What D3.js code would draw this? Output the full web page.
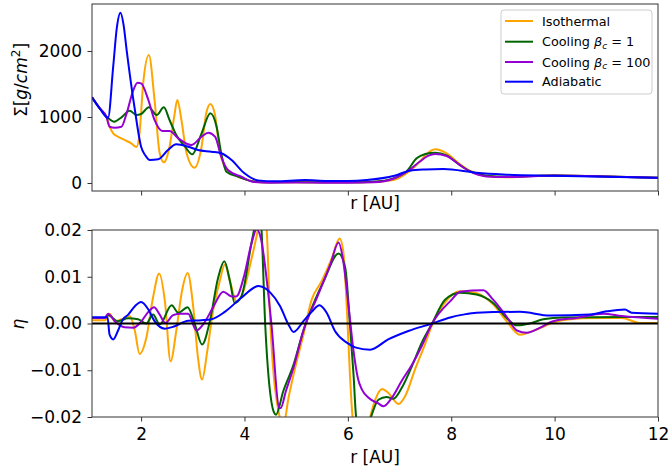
<!DOCTYPE html>
<html><head><meta charset="utf-8">
<script src="https://cdn.jsdelivr.net/npm/d3@7"></script>
<style>body{margin:0;background:#fff} text{font-family:"DejaVu Sans",sans-serif}</style>
</head><body><svg id="c" width="670" height="470"></svg>
<script>
// ---------------- data ----------------
const seriesNames = ["Isothermal", "Cooling1", "Cooling100", "Adiabatic"];
const rTicks = [2, 4, 6, 8, 10, 12];
const sigmaTicks = [0, 1000, 2000];
const etaTicks = [-0.02, -0.01, 0.00, 0.01, 0.02];
const etaTickLabels = ["\u22120.02", "\u22120.01", "0.00", "0.01", "0.02"];

// Surface density Σ [g/cm^2] vs r [AU]
const sigmaIsothermal = [[1.05,1298],[1.2,1130],[1.33,1000],[1.39,853],[1.46,753],[1.55,702],[1.68,652],[1.81,601],[1.91,545],[1.97,753],[2.04,1510],[2.15,1940],[2.26,1258],[2.36,450],[2.44,313],[2.55,550],[2.64,1005],[2.70,1258],[2.78,955],[2.88,450],[3.03,232],[3.17,550],[3.26,1056],[3.34,1197],[3.43,1030],[3.52,500],[3.62,247],[3.81,121],[4.07,45],[4.3,12],[5.0,12],[5.5,10],[6.0,10],[6.5,15],[6.88,45],[7.14,150],[7.40,330],[7.50,420],[7.69,510],[7.91,450],[8.17,285],[8.36,187],[8.68,106],[9.07,86],[9.52,106],[10,115],[11,100],[12,80]];
const sigmaCooling1 = [[1.05,1298],[1.2,1130],[1.36,985],[1.48,929],[1.62,995],[1.78,1096],[1.91,1030],[2.0,1045],[2.15,1147],[2.30,1030],[2.44,1147],[2.55,955],[2.68,727],[2.85,550],[2.99,435],[3.17,753],[3.34,1056],[3.46,853],[3.55,450],[3.65,171],[3.88,95],[4.13,30],[4.4,10],[5.0,15],[5.5,10],[6.0,10],[6.5,20],[6.88,70],[7.14,180],[7.33,374],[7.50,440],[7.69,460],[7.91,420],[8.17,270],[8.36,180],[8.68,110],[9.07,95],[9.52,105],[10,112],[11,100],[12,80]];
const sigmaCooling100 = [[1.05,1298],[1.2,1130],[1.33,1000],[1.39,853],[1.49,838],[1.62,853],[1.72,1056],[1.85,1409],[1.93,1520],[2.0,1510],[2.14,1258],[2.26,955],[2.41,788],[2.55,788],[2.72,677],[2.97,576],[3.17,702],[3.30,762],[3.43,702],[3.55,398],[3.68,197],[3.94,95],[4.19,15],[4.5,5],[5.0,8],[5.5,5],[6.0,5],[6.5,12],[6.88,65],[7.14,171],[7.40,330],[7.55,410],[7.69,440],[7.91,410],[8.17,270],[8.36,175],[8.68,100],[9.07,90],[9.52,100],[10,112],[11,100],[12,80]];
const sigmaAdiabatic = [[1.05,1298],[1.2,1130],[1.36,985],[1.46,1762],[1.53,2350],[1.60,2580],[1.66,2400],[1.72,2015],[1.88,1106],[2.0,550],[2.08,420],[2.17,348],[2.33,360],[2.52,500],[2.68,586],[2.91,550],[3.10,500],[3.36,474],[3.55,450],[3.75,348],[4.0,147],[4.26,40],[4.6,25],[5.17,45],[5.6,30],[6.0,30],[6.37,45],[6.9,110],[7.2,187],[7.5,205],[7.85,212],[8.49,156],[9.0,130],[9.97,111],[11,95],[12,80]];

// η vs r [AU]
const etaIsothermal = [[1.05,0.0007],[1.3,0.0007],[1.39,0.0021],[1.49,0.0005],[1.62,0.0009],[1.78,0.0016],[1.88,-0.0016],[1.97,-0.0065],[2.10,-0.0031],[2.23,0.0055],[2.35,0.0107],[2.46,0.0048],[2.57,-0.0081],[2.68,-0.0016],[2.79,0.0069],[2.90,0.0108],[3.01,0.0034],[3.10,-0.0073],[3.18,-0.0120],[3.28,-0.0059],[3.39,0.0026],[3.52,0.0090],[3.62,0.0126],[3.72,0.0090],[3.85,0.0046],[3.98,0.0069],[4.11,0.0126],[4.24,0.019],[4.36,0.026],[4.43,0.020],[4.50,0.0],[4.68,-0.020],[4.75,-0.022],[4.85,-0.016],[4.95,-0.0109],[5.14,-0.0024],[5.30,0.0051],[5.49,0.0090],[5.69,0.0140],[5.84,0.0182],[5.91,0.0155],[5.98,0.0034],[6.04,-0.0109],[6.09,-0.0198],[6.25,-0.028],[6.43,-0.020],[6.53,-0.0163],[6.66,-0.0140],[6.78,-0.0148],[6.98,-0.0172],[7.11,-0.0155],[7.30,-0.0098],[7.49,-0.0045],[7.64,0.0],[7.85,0.0041],[8.17,0.0069],[8.46,0.0066],[8.81,0.0041],[9.07,0.0005],[9.33,-0.0024],[9.65,-0.0013],[10.04,0.0004],[10.55,0.0011],[10.94,0.0012],[11.30,0.0012],[11.65,0.0001],[12,0.0001]];
const etaCooling1 = [[1.05,0.0012],[1.3,0.0012],[1.36,0.0018],[1.55,0.0005],[1.75,0.0011],[1.94,0.0009],[2.10,0.0],[2.23,0.0019],[2.36,-0.0002],[2.59,0.0039],[2.72,0.0023],[2.90,0.0035],[3.04,-0.0002],[3.18,-0.0045],[3.33,0.0005],[3.49,0.0098],[3.61,0.0133],[3.72,0.0090],[3.81,0.0044],[3.94,0.0058],[4.13,0.0169],[4.20,0.021],[4.27,0.026],[4.33,0.020],[4.40,0.0],[4.57,-0.019],[4.61,-0.0195],[4.75,-0.0145],[4.95,-0.0088],[5.14,-0.0015],[5.33,0.0041],[5.53,0.0090],[5.82,0.0150],[5.95,0.0119],[6.04,-0.0002],[6.11,-0.011],[6.16,-0.020],[6.3,-0.026],[6.46,-0.0196],[6.59,-0.0163],[6.75,-0.0157],[6.88,-0.0161],[7.04,-0.0138],[7.24,-0.0091],[7.43,-0.0041],[7.63,0.0],[7.88,0.0051],[8.17,0.0066],[8.49,0.0062],[8.81,0.0044],[9.07,0.0012],[9.27,-0.0004],[9.52,0.0],[9.78,0.0009],[10.17,0.0013],[12,0.0014]];
const etaCooling100 = [[1.05,0.0012],[1.3,0.0012],[1.36,0.0021],[1.49,0.0005],[1.68,-0.0008],[1.85,-0.0009],[2.0,0.0004],[2.14,0.0025],[2.25,0.0035],[2.36,0.0019],[2.47,0.0001],[2.62,0.0018],[2.77,0.0021],[2.91,0.0021],[3.07,-0.0015],[3.20,-0.0002],[3.39,0.0034],[3.59,0.0068],[3.75,0.0058],[3.84,0.0058],[4.0,0.0105],[4.13,0.0169],[4.24,0.0202],[4.31,0.0185],[4.52,0.0],[4.67,-0.018],[4.70,-0.0181],[4.80,-0.0145],[4.95,-0.0094],[5.14,-0.0015],[5.40,0.0055],[5.66,0.0126],[5.82,0.0173],[5.91,0.0134],[6.01,0.0041],[6.11,-0.0059],[6.20,-0.0120],[6.27,-0.0141],[6.40,-0.0159],[6.59,-0.0171],[6.69,-0.0177],[6.85,-0.0159],[7.04,-0.0123],[7.24,-0.0088],[7.43,-0.0048],[7.63,0.0],[8.01,0.0051],[8.17,0.0068],[8.62,0.0071],[8.81,0.0051],[9.07,0.0015],[9.27,-0.0015],[9.46,-0.0020],[9.72,-0.0009],[9.97,0.0005],[10.43,0.0012],[10.94,0.0021],[11.30,0.0016],[12,0.0010]];
const etaAdiabatic = [[1.05,0.00135],[1.35,0.00135],[1.39,-0.0024],[1.46,-0.0034],[1.55,-0.0016],[1.65,0.0009],[1.75,0.0019],[1.88,0.0037],[2.0,0.0046],[2.14,0.0030],[2.26,0.0005],[2.46,-0.0011],[2.65,-0.0006],[2.91,0.0006],[3.17,0.0007],[3.36,0.0009],[3.62,0.0025],[3.94,0.0055],[4.27,0.0080],[4.50,0.0066],[4.69,0.0037],[4.85,-0.0002],[4.95,-0.0018],[5.14,0.0005],[5.30,0.0025],[5.45,0.0039],[5.59,0.0023],[5.75,-0.0016],[5.98,-0.0041],[6.14,-0.0051],[6.43,-0.0056],[6.78,-0.0034],[7.17,-0.0016],[7.63,0.0],[7.98,0.0013],[8.23,0.0019],[8.49,0.0023],[9.33,0.0025],[9.91,0.0017],[10.68,0.0019],[11.01,0.0026],[11.36,0.0030],[11.49,0.0023],[12,0.0021]];

const colors = {Isothermal:"#FFA500", Cooling1:"#006400", Cooling100:"#9400D3", Adiabatic:"#0000FF"};
const sigmaData = {Isothermal:sigmaIsothermal, Cooling1:sigmaCooling1, Cooling100:sigmaCooling100, Adiabatic:sigmaAdiabatic};
const etaData = {Isothermal:etaIsothermal, Cooling1:etaCooling1, Cooling100:etaCooling100, Adiabatic:etaAdiabatic};

// ---------------- layout ----------------
const svg = d3.select("#c");
const L = 92, R = 658;
const top1 = 4, bot1 = 191, top2 = 230, bot2 = 417;
const FS = 17;

const x = d3.scaleLinear().domain([1.05, 12]).range([L, R]);
const ySig = d3.scaleLinear().domain([-121, 2712]).range([bot1, top1]);
const yEta = d3.scaleLinear().domain([-0.02, 0.02]).range([bot2, top2]);

const defs = svg.append("defs");
defs.append("clipPath").attr("id","clip1").append("rect").attr("x",L).attr("y",top1).attr("width",R-L).attr("height",bot1-top1);
defs.append("clipPath").attr("id","clip2").append("rect").attr("x",L).attr("y",top2).attr("width",R-L).attr("height",bot2-top2);

function drawLines(yScale, dataMap, clipId) {
  const line = d3.line().x(d => x(d[0])).y(d => yScale(d[1])).curve(d3.curveMonotoneX);
  const g = svg.append("g").attr("clip-path", `url(#${clipId})`);
  seriesNames.forEach(n => {
    g.append("path").attr("d", line(dataMap[n])).attr("fill","none")
      .attr("stroke", colors[n]).attr("stroke-width", 2).attr("stroke-linejoin","round");
  });
  return g;
}

drawLines(ySig, sigmaData, "clip1");
const g2 = drawLines(yEta, etaData, "clip2");
g2.append("line").attr("x1",L).attr("x2",R).attr("y1",yEta(0)).attr("y2",yEta(0))
  .attr("stroke","#000").attr("stroke-width",2);

function styleAxis(g){
  g.selectAll(".domain").remove();
  g.selectAll(".tick line").attr("stroke","#333").attr("stroke-width",1);
  g.selectAll(".tick text").attr("font-size",FS).attr("fill","#000").attr("font-family","DejaVu Sans");
}

// top panel axes
svg.append("g").attr("transform",`translate(0,${bot1})`)
  .call(d3.axisBottom(x).tickValues(rTicks).tickFormat("").tickSize(4.5).tickSizeOuter(0)).call(styleAxis);
svg.append("g").attr("transform",`translate(${L},0)`)
  .call(d3.axisLeft(ySig).tickValues(sigmaTicks).tickFormat(d3.format("d")).tickSize(4.5).tickPadding(5.5).tickSizeOuter(0)).call(styleAxis);
// bottom panel axes
svg.append("g").attr("transform",`translate(0,${bot2})`)
  .call(d3.axisBottom(x).tickValues(rTicks).tickFormat(d3.format("d")).tickSize(4.5).tickPadding(6.5).tickSizeOuter(0)).call(styleAxis);
svg.append("g").attr("transform",`translate(${L},0)`)
  .call(d3.axisLeft(yEta).tickValues(etaTicks).tickFormat((d,i)=>etaTickLabels[i]).tickSize(4.5).tickPadding(5.5).tickSizeOuter(0)).call(styleAxis);

// frames
[[top1,bot1],[top2,bot2]].forEach(([t,b]) => {
  svg.append("rect").attr("x",L).attr("y",t).attr("width",R-L).attr("height",b-t)
    .attr("fill","none").attr("stroke","#333").attr("stroke-width",1);
});

// axis labels
svg.append("text").attr("x",(L+R)/2).attr("y",209).attr("text-anchor","middle").attr("font-size",FS).text("r [AU]");
svg.append("text").attr("x",(L+R)/2).attr("y",463).attr("text-anchor","middle").attr("font-size",FS).text("r [AU]");

const sl = svg.append("text").attr("transform","translate(27,80) rotate(-90)").attr("text-anchor","middle").attr("font-size",FS);
sl.append("tspan").text("Σ[");
sl.append("tspan").attr("font-style","italic").text("g");
sl.append("tspan").text("/");
sl.append("tspan").attr("font-style","italic").text("cm");
sl.append("tspan").attr("font-size",12).attr("dy",-7).text("2");
sl.append("tspan").attr("dy",7).text("]");

svg.append("text").attr("transform","translate(24,324) rotate(-90)").attr("text-anchor","middle")
  .attr("font-size",FS).attr("font-style","italic").text("η");

// legend
const lg = svg.append("g");
lg.append("rect").attr("x",501).attr("y",10).attr("width",151).attr("height",84).attr("rx",3)
  .attr("fill","#fff").attr("fill-opacity",0.8).attr("stroke","#ccc").attr("stroke-width",1);
const legendRows = [
  {n:"Isothermal", parts:[["Isothermal",null]]},
  {n:"Cooling1", parts:[["Cooling ",null],["β","i"],["c","sub"],[" = 1","back"]]},
  {n:"Cooling100", parts:[["Cooling ",null],["β","i"],["c","sub"],[" = 100","back"]]},
  {n:"Adiabatic", parts:[["Adiabatic",null]]}
];
const rowY = [21, 41.7, 62, 81.7];
legendRows.forEach((r,i) => {
  lg.append("line").attr("x1",505).attr("x2",533).attr("y1",rowY[i]).attr("y2",rowY[i])
    .attr("stroke",colors[r.n]).attr("stroke-width",2);
  const t = lg.append("text").attr("x",542).attr("y",rowY[i]+4.6).attr("font-size",12.8).attr("fill","#000");
  r.parts.forEach(([s,k]) => {
    const ts = t.append("tspan").text(s);
    if (k==="i") ts.attr("font-style","italic");
    if (k==="sub") ts.attr("font-style","italic").attr("font-size",9).attr("dy",2.5);
    if (k==="back") ts.attr("dy",-2.5);
  });
});
</script></body></html>
